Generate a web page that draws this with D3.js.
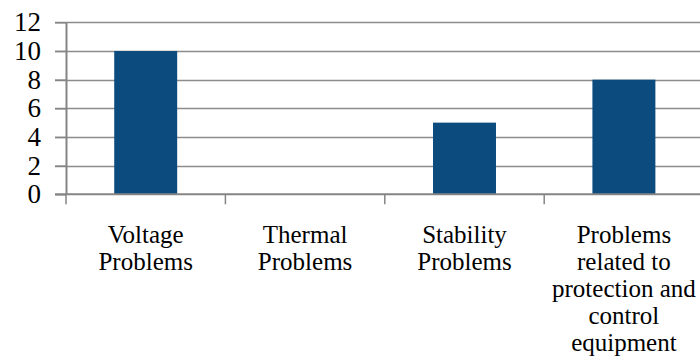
<!DOCTYPE html>
<html>
<head>
<meta charset="utf-8">
<script src="https://cdn.jsdelivr.net/npm/d3@7"></script>
</head>
<body style="margin:0">
<svg id="chart" width="700" height="358"></svg>
<script>
// Number of reported problems per category
const categories = [
  ["Voltage", "Problems"],
  ["Thermal", "Problems"],
  ["Stability", "Problems"],
  ["Problems", "related to", "protection and", "control", "equipment"]
];
const values = [10, 0, 5, 8];
const yTicks = [0, 2, 4, 6, 8, 10, 12];

const FONT = "Liberation Serif";
const svg = d3.select("#chart");
const W = 700, H = 358;
const plotLeft = 66, plotRight = 703.6, plotTop = 22.3, plotBottom = 194.3;

const keys = categories.map((c, i) => i);
const x = d3.scaleBand().domain(keys).range([plotLeft, plotRight])
  .paddingInner(0.605).paddingOuter(0.3025);
const y = d3.scaleLinear().domain([0, 12]).range([plotBottom, plotTop]);

// horizontal gridlines (with the small outside tick on the left)
svg.selectAll("line.grid").data(yTicks.filter(t => t > 0)).join("line")
  .attr("class", "grid")
  .attr("x1", plotLeft - 11).attr("x2", W)
  .attr("y1", d => Math.round(y(d)) + 0.5).attr("y2", d => Math.round(y(d)) + 0.5)
  .attr("stroke", "#8c8c8c").attr("stroke-width", 1.3);

// bars
svg.selectAll("rect.bar").data(values).join("rect")
  .attr("class", "bar")
  .attr("x", (d, i) => x(i))
  .attr("width", x.bandwidth())
  .attr("y", d => y(d))
  .attr("height", d => y(0) - y(d))
  .attr("fill", "#0b4b7d");

// y axis: line and ticks from d3.axisLeft, labels placed from the same scale
const yAxis = d3.axisLeft(y).tickValues(yTicks).tickSize(11).tickSizeOuter(0).tickFormat("");
const gy = svg.append("g").attr("transform", `translate(${plotLeft},0)`).call(yAxis);
gy.select(".domain").attr("stroke", "#858585").attr("stroke-width", 2);
gy.selectAll(".tick line").attr("stroke", "#858585").attr("stroke-width", 1.5);

svg.selectAll("text.ylab").data(yTicks).join("text")
  .attr("class", "ylab")
  .attr("x", plotLeft - 25).attr("y", d => y(d) + 9)
  .attr("text-anchor", "end")
  .style("font-family", FONT).style("font-size", "27px")
  .text(d => d);

// x axis baseline
svg.append("line")
  .attr("x1", plotLeft - 11).attr("x2", W)
  .attr("y1", y(0)).attr("y2", y(0))
  .attr("stroke", "#858585").attr("stroke-width", 2);

// category separators below the axis
const step = x.step();
svg.selectAll("line.sep").data(d3.range(categories.length + 1)).join("line")
  .attr("class", "sep")
  .attr("x1", i => plotLeft + i * step).attr("x2", i => plotLeft + i * step)
  .attr("y1", y(0)).attr("y2", y(0) + 10)
  .attr("stroke", "#858585").attr("stroke-width", 1.5);

// category labels, one text per line
const lines = categories.flatMap((c, i) => c.map((t, j) => ({ i, j, t })));
svg.selectAll("text.xlab").data(lines).join("text")
  .attr("class", "xlab")
  .attr("text-anchor", "middle")
  .attr("x", d => x(d.i) + x.bandwidth() / 2)
  .attr("y", d => 243 + d.j * 27)
  .style("font-family", FONT).style("font-size", "25px")
  .text(d => d.t);
</script>
</body>
</html>
